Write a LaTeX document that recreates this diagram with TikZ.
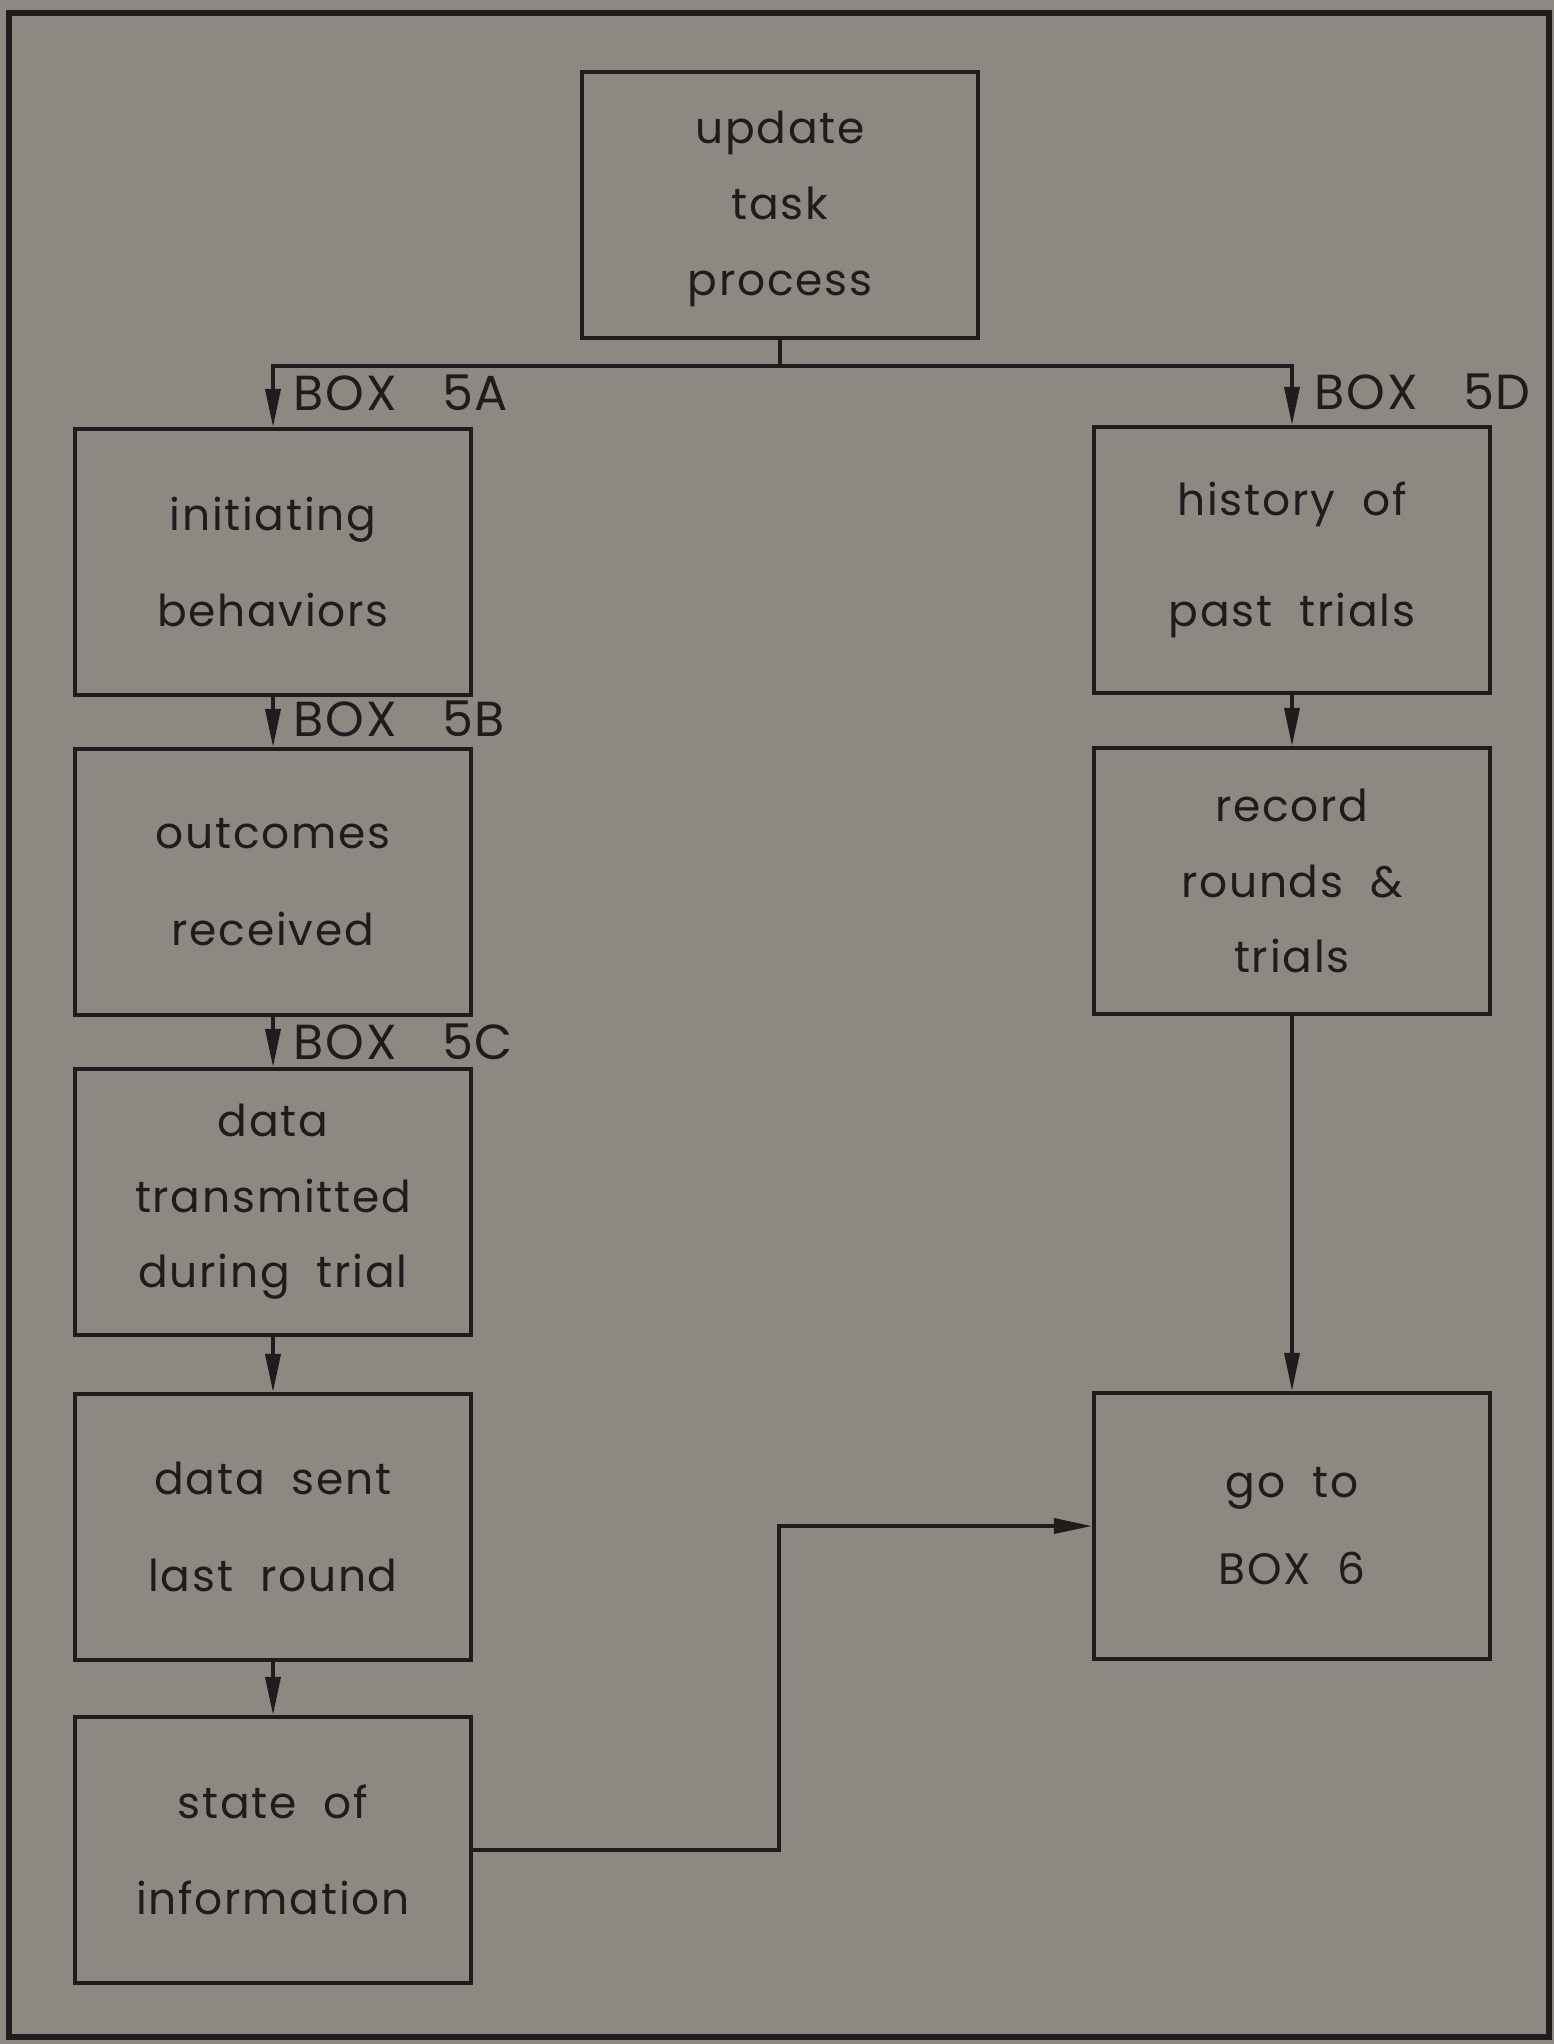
\documentclass[tikz,border=0pt]{standalone}
\usepackage{fontspec}
\setmainfont{Poppins}[LetterSpace=4,WordSpace=2]
\usetikzlibrary{calc,arrows.meta,positioning}
\definecolor{paper}{RGB}{141,136,130}
\definecolor{ink}{RGB}{30,28,28}

\begin{document}
\begin{tikzpicture}[x=0.01cm, y=-0.01cm,
    every node/.style={text=ink},
    box/.style={draw=ink, line width=1.1pt, minimum width=3.96cm, minimum height=2.66cm,
      align=center, inner sep=0pt, font=\fontsize{12.5}{21.5}\selectfont},
    boxlbl/.style={anchor=west, inner sep=0pt, font=\fontsize{14}{16}\selectfont},
    link/.style={draw=ink, line width=1pt},
    flow/.style={link, -{Triangle[length=0.38cm,width=0.15cm]}}]
  \fill[paper] (0,0) rectangle (1554,2044);
  \useasboundingbox (0,0) rectangle (1554,2044);
  \draw[ink, line width=1.6pt] (9,13) rectangle (1549,2037);

  % top box
  \node[box] (update) at (780,205) {\\[-10pt]update\\task\\process};

  % left column
  \node[box] (init)  at (273,562)  {initiating\\[6pt]behaviors};
  \node[box] (outc)  at (273,882)  {outcomes\\[6pt]received};
  \node[box] (trans) at (273,1202) {data\\transmitted\\during trial};
  \node[box] (sent)  at (273,1527) {data sent\\[6pt]last round};
  \node[box] (state) at (273,1850) {state of\\[6pt]information};

  % right column
  \node[box] (hist) at (1292,560)  {history of\\[10pt]past trials};
  \node[box] (rec)  at (1292,881)  {record\\rounds \&\\trials};
  \node[box] (go)   at (1292,1526) {go to\\[3pt]BOX 6};

  % box labels
  \node[boxlbl] (l5a) at ($(init.north)+(20,-34)$)  {BOX\hspace{0.45cm}5A};
  \node[boxlbl] (l5b) at ($(outc.north)+(20,-28)$)  {BOX\hspace{0.45cm}5B};
  \node[boxlbl] (l5c) at ($(trans.north)+(20,-25)$) {BOX\hspace{0.45cm}5C};
  \node[boxlbl] (l5d) at ($(hist.north)+(22,-33)$)  {BOX\hspace{0.45cm}5D};

  % connectors
  \coordinate (bus) at ($(update.south)+(0,26)$);
  \draw[link] (update.south) -- (bus);
  \draw[flow] (bus) -| (init.north);
  \draw[flow] (bus) -| (hist.north);
  \foreach \a/\b in {init/outc, outc/trans, trans/sent, sent/state, hist/rec, rec/go}
    \draw[flow] (\a.south) -- (\b.north);
  \draw[flow] (state.east) -- ++(306,0) |- (go.west);
\end{tikzpicture}
\end{document}
